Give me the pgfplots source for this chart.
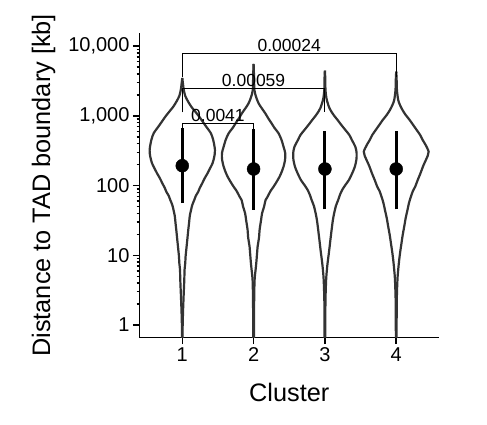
\documentclass[border=0pt]{standalone}
\usepackage{fontspec}
\setmainfont{Liberation Sans}
\usepackage{pgfplots}
\usepackage{pgfplotstable}
\pgfplotsset{compat=1.18}
\definecolor{vio}{HTML}{333333}

% violin outlines: y value, half width (x units)
\pgfplotstableread{
y w
3500 0
2870 0.010
2353 0.021
1929 0.042
1636 0.077
1355 0.126
1175 0.175
974 0.238
845 0.280
700 0.336
569 0.399
451 0.434
324 0.458
257 0.448
209 0.424
179 0.392
150 0.354
128 0.315
108 0.280
92.4 0.245
81.7 0.224
71 0.189
62.1 0.168
52.7 0.140
44.7 0.123
36.6 0.105
29.1 0.095
23.1 0.084
16.6 0.070
13.2 0.060
9.5 0.046
7.8 0.042
6.2 0.032
4.4 0.028
2.5 0.018
1.5 0.010
0.85 0.004
0.52 0.003
}\vone
\pgfplotstableread{
y w
5555 0
4265 0.004
3273 0.007
2353 0.011
1867 0.035
1517 0.070
1298 0.112
1089 0.164
933 0.203
783 0.252
670 0.294
563 0.350
451 0.392
361 0.420
291 0.444
233 0.441
187 0.420
162 0.399
134 0.364
116 0.329
96.4 0.280
83.7 0.238
69.3 0.196
62.1 0.168
49.8 0.147
40.1 0.119
32.1 0.105
23.1 0.084
18.3 0.077
13.2 0.056
10.8 0.049
7.8 0.038
6.2 0.028
4.4 0.014
2.3 0.008
1.18 0.006
0.52 0.004
}\vtwo
\pgfplotstableread{
y w
4454 0
3273 0.006
2353 0.008
1806 0.021
1531 0.039
1298 0.063
1149 0.091
997 0.133
873 0.178
740 0.231
628 0.287
532 0.343
451 0.378
361 0.427
291 0.445
233 0.441
187 0.420
152 0.385
120 0.336
102 0.287
86.5 0.242
73.3 0.210
62.1 0.186
51 0.154
40.1 0.130
32.1 0.112
23.1 0.094
16.6 0.077
13.2 0.066
10.1 0.052
7.8 0.038
6.2 0.028
4.4 0.017
2.3 0.008
1.18 0.006
0.52 0.004
}\vthree
\pgfplotstableread{
y w
4307 0
3273 0.006
2353 0.010
1691 0.028
1433 0.053
1216 0.088
1031 0.133
873 0.189
740 0.238
628 0.287
532 0.336
451 0.371
382 0.413
306 0.455
266 0.441
233 0.416
191 0.378
150 0.340
120 0.301
96.4 0.266
83.7 0.234
69.3 0.206
56.3 0.179
44.7 0.158
34.3 0.133
25.7 0.112
19.6 0.091
14.9 0.074
11.2 0.056
8.6 0.042
6.2 0.028
4.4 0.017
2.3 0.008
1.18 0.006
0.52 0.004
}\vfour

\begin{document}
\begin{tikzpicture}
\begin{axis}[
    at={(0pt,0pt)}, anchor=south west,
    scale only axis,
    width=299.5pt, height=304.7pt,
    xmin=0.4, xmax=4.6,
    ymode=log, ymin=0.657, ymax=15460,
    axis x line*=bottom, axis y line*=left,
    axis line style={-, black, line width=1.5pt},
    tick style={black, line width=1.5pt},
    tick align=outside,
    major tick length=6.5pt,
    minor tick num=0,
    xtick={1,2,3,4}, xticklabels={1,2,3,4},
    ytick={1,10,100,1000,10000},
    yticklabels={1,10,100,{1,000},{10,000}},
    /pgf/number format/assume math mode=true,
    ticklabel style={font=\fontsize{20}{24}\selectfont, black},
    label style={font=\fontsize{25.3}{30}\selectfont},
    xlabel={Cluster},
    xlabel style={at={(axis description cs:0.5,-0.21)}, anchor=base},
    ylabel={Distance to TAD boundary [kb]},
    ylabel style={at={(axis description cs:-0.2988,0.5)}, anchor=base, rotate=0},
    clip=true,
]
% violins
\pgfplotsset{vl/.style={vio, line width=2.2pt, smooth, no markers}}
\addplot[vl] table[x expr=1+\thisrow{w}, y=y] {\vone};
\addplot[vl] table[x expr=1-\thisrow{w}, y=y] {\vone};
\addplot[vl] table[x expr=2+\thisrow{w}, y=y] {\vtwo};
\addplot[vl] table[x expr=2-\thisrow{w}, y=y] {\vtwo};
\addplot[vl] table[x expr=3+\thisrow{w}, y=y] {\vthree};
\addplot[vl] table[x expr=3-\thisrow{w}, y=y] {\vthree};
\addplot[vl] table[x expr=4+\thisrow{w}, y=y] {\vfour};
\addplot[vl] table[x expr=4-\thisrow{w}, y=y] {\vfour};

% summary ranges and medians
\addplot[black, line width=3pt] coordinates {(1,56) (1,670)};
\addplot[black, line width=3pt] coordinates {(2,44.7) (2,642)};
\addplot[black, line width=3pt] coordinates {(3,45.7) (3,614)};
\addplot[black, line width=3pt] coordinates {(4,45.7) (4,614)};
\addplot[only marks, mark=*, mark size=6.5pt, black]
    coordinates {(1,193) (2,173) (3,173) (4,173)};

% significance brackets
\addplot[black, line width=1pt] coordinates {(1,3573) (1,7907) (4,7907) (4,3573)};
\addplot[black, line width=1pt] coordinates {(1,1125) (1,2489) (3,2489) (3,1125)};
\addplot[black, line width=1pt] coordinates {(1,351) (1,776) (2,776) (2,351)};
\node[anchor=base, font=\fontsize{17.5}{20}\selectfont, inner sep=0pt, yshift=2pt] at (axis cs:2.5,7907) {0.00024};
\node[anchor=base, font=\fontsize{17.5}{20}\selectfont, inner sep=0pt, yshift=2pt] at (axis cs:2,2489) {0.00059};
\node[anchor=base, font=\fontsize{17.5}{20}\selectfont, inner sep=0pt, yshift=2pt] at (axis cs:1.5,776) {0.0041};
\end{axis}
\path (-139.5pt,-86.3pt) rectangle (347.5pt,337.7pt);
\end{tikzpicture}
\end{document}
